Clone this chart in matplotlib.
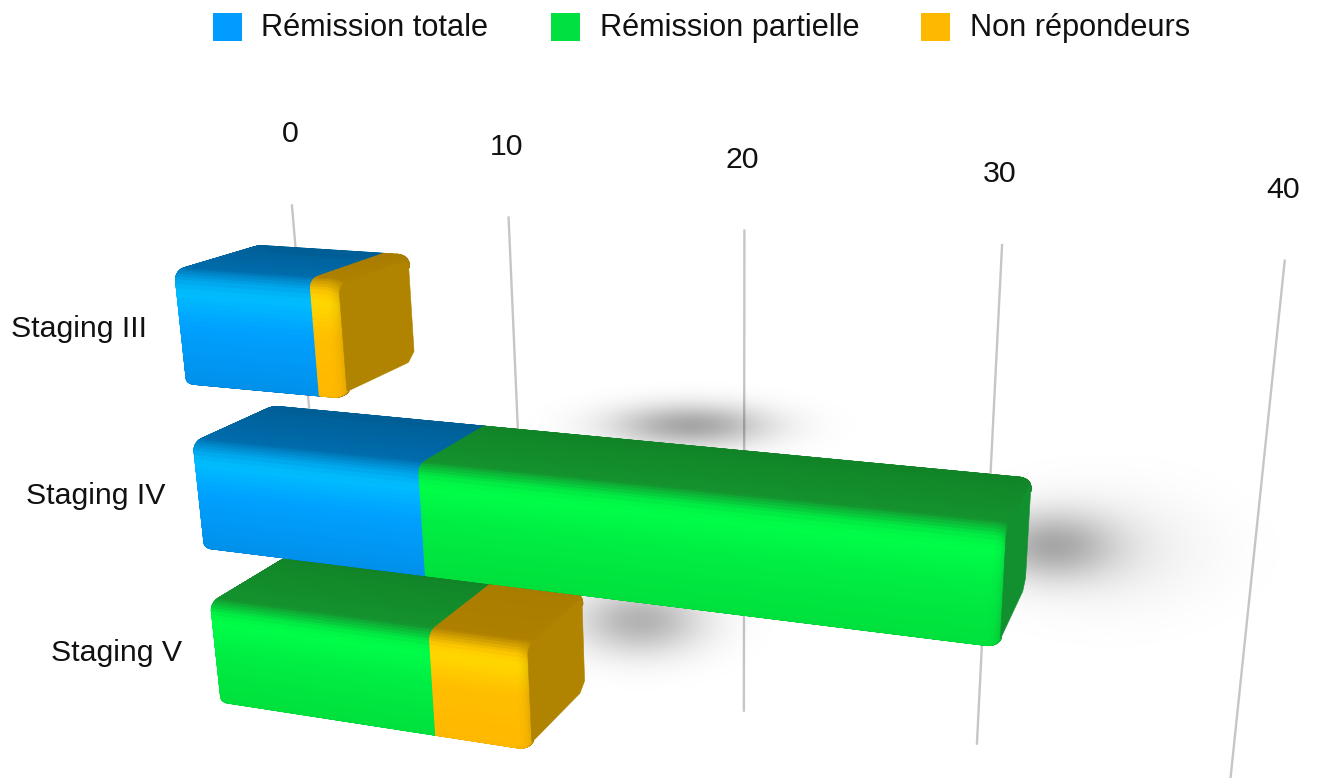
import numpy as np
import matplotlib
matplotlib.use("Agg")
import matplotlib.pyplot as plt
from matplotlib.collections import PolyCollection
from matplotlib.patches import Rectangle

plt.rcParams["font.family"] = ["Liberation Sans", "DejaVu Sans"]

categories = ["Staging III", "Staging IV", "Staging V"]
remission_totale = [6, 10, 0]
remission_partielle = [0, 22, 10]
non_repondeurs = [1, 0, 4]
value_ticks = [0, 10, 20, 30, 40]
series_names = ["Rémission totale", "Rémission partielle", "Non répondeurs"]

# camera: (value, row, depth) -> pixel
CAMERA = np.array([
    [21.47929, 24.81332, 94.1054, 181.8288],
    [0.3522265, 183.8706, -5.309194, 325.6577],
    [-0.004455213, 0.03359449, 0.07052626, 1.0],
])
GRID_DEPTH, GRID_TOP, GRID_BOTTOM = 1.6, -0.50, 2.52

# bar shape
HALF = 0.33
D_FRONT, D_BACK = -0.06, 1.08
R_H, R_D, R_V = 0.05, 0.10, 0.45
R_BH, R_BD = 0.012, 0.03
INSET_H, INSET_D = 0.03, 0.06
END_FADE = 0.3

Q_STOPS = [0.0, 0.025, 0.5, 0.78, 0.86, 1.05, 2.0]
PALETTE = {
    "totale": ["#004C80", "#0090EA", "#00A0FF", "#00BEFF", "#00AAF0", "#006CAC", "#005E96", "#005E96"],
    "partielle": ["#007024", "#00E03C", "#00EE44", "#00FF48", "#00F044", "#14922E", "#128428", "#129030"],
    "non": ["#7A5800", "#FFB800", "#FFBE00", "#FFD800", "#FFC800", "#AE8000", "#A87C00", "#B08400"],
}
LEGEND_COLOURS = ["#009CFF", "#00E040", "#FFB800"]


def project(v, h, d):
    w = CAMERA @ np.array([v, h, d, 1.0])
    return w[0] / w[2], w[1] / w[2]


def section(inset):
    H = HALF - INSET_H * inset
    d0, d1 = D_FRONT + INSET_D * inset, D_BACK - INSET_D * inset
    a = np.linspace(0, np.pi / 2, 6)
    hs = [H - R_BH + R_BH * np.cos(a), np.linspace(H - R_BH, -H + R_H, 24)[1:-1],
          -H + R_H - R_H * np.sin(a), np.full(16, -H)[1:-1], -H + R_H - R_H * np.cos(a)]
    ds = [d0 + R_BD - R_BD * np.sin(a), np.full(24, d0)[1:-1], d0 + R_D - R_D * np.cos(a),
          np.linspace(d0 + R_D, d1 - R_D, 16)[1:-1], d1 - R_D + R_D * np.sin(a)]
    qs = [np.linspace(0, .04, 6), np.linspace(.04, .88, 24)[1:-1], np.linspace(.88, 1.05, 6),
          np.linspace(1.05, 1.95, 16)[1:-1], np.linspace(1.95, 2, 6)]
    return np.concatenate(hs), np.concatenate(ds), np.concatenate(qs)


def tone(name, q):
    rgb = np.array([matplotlib.colors.to_rgb(c) for c in PALETTE[name][:7]])
    return np.array([np.interp(q, Q_STOPS, rgb[:, i]) for i in range(3)]).T


def end_inset(dist):
    t = np.clip(1 - dist / R_V, 0, 1)
    return 1 - np.sqrt(1 - t ** 2)


def draw_segment(ax, v0, v1, row, name, round_start, round_end, zorder):
    samples = [v0, v1]
    if round_start:
        samples += list(v0 + R_V * (1 - np.cos(np.linspace(0, np.pi / 2, 14))))
    if round_end:
        samples += list(v1 - R_V * (1 - np.cos(np.linspace(0, np.pi / 2, 14))))
    samples = np.unique(np.clip(samples, v0, v1))
    cap_rgb = np.array(matplotlib.colors.to_rgb(PALETTE[name][7]))
    rings, fades = [], []
    for v in samples:
        ins = 0.0
        if round_start:
            ins = max(ins, end_inset(v - v0))
        fade = 0.0
        if round_end:
            e = end_inset(v1 - v)
            ins = max(ins, e)
            fade = e
        h, d, q = section(ins)
        rings.append(np.array([project(v, row + hh, dd) for hh, dd in zip(h, d)]))
        fades.append(fade)
    base = tone(name, q)
    polys, cols = [], []
    for i in range(len(rings) - 1):
        fade = 0.5 * (fades[i] + fades[i + 1]) * END_FADE
        for j in range(len(q) - 1):
            polys.append([rings[i][j], rings[i + 1][j], rings[i + 1][j + 1], rings[i][j + 1]])
            c = 0.5 * (base[j] + base[j + 1])
            cols.append((1 - fade) * c + fade * cap_rgb)
    ax.add_collection(PolyCollection(polys, facecolors=cols, edgecolors=cols, linewidths=1.0, zorder=zorder))
    if round_end:
        h, d, _ = section(1.0)
        H = HALF - INSET_H
        d_end = D_BACK - INSET_D
        h = np.concatenate([h, [H - R_H, H]])
        d = np.concatenate([d, [d_end, d_end - R_D]])
        cap = [project(v1, row + hh, dd) for hh, dd in zip(h, d)]
        ax.fill(*zip(*cap), color=cap_rgb, lw=0.4, zorder=zorder + 0.5)


fig = plt.figure(figsize=(13.19, 7.78), dpi=100)
ax = fig.add_axes([0, 0, 1, 1])
ax.set_xlim(0, 1319)
ax.set_ylim(778, 0)
ax.axis("off")

# -----------------------------
# Grid and value labels
# -----------------------------
for v in value_ticks:
    p0, p1 = project(v, GRID_TOP, GRID_DEPTH), project(v, GRID_BOTTOM, GRID_DEPTH)
    ax.plot([p0[0], p1[0]], [p0[1], p1[1]], color="#C6C6C6", lw=1.7, zorder=1)
    ax.text(p0[0] - 2, p0[1] - 71, str(v), fontsize=21.8, ha="center", va="center", color="#111111")

# -----------------------------
# Soft shadows
# -----------------------------
yy, xx = np.mgrid[0:778, 0:1319]
alpha = np.zeros(xx.shape)
for cx, cy, sx, sy, a in [(1050, 545, 45, 24, .30), (1110, 550, 70, 40, .07),
                          (690, 425, 55, 15, .35), (640, 620, 45, 24, .30)]:
    alpha += a * np.exp(-((xx - cx) / sx) ** 2 / 2 - ((yy - cy) / sy) ** 2 / 2)
shadow = np.zeros(xx.shape + (4,))
shadow[..., 3] = np.clip(alpha, 0, 1)
ax.imshow(shadow, extent=(0, 1319, 778, 0), zorder=2, aspect="auto")

# -----------------------------
# Bars
# -----------------------------
stacks = list(zip(remission_totale, remission_partielle, non_repondeurs))
for row in [0, 2, 1]:
    names = ["totale", "partielle", "non"]
    parts = [(n, x) for n, x in zip(names, stacks[row]) if x > 0]
    left = 0
    for k, (name, width) in enumerate(parts):
        draw_segment(ax, left, left + width, row, name, k == 0, k == len(parts) - 1,
                     5 + (row == 1) * 3 + k * 0.1)
        left += width

for row, label in enumerate(categories):
    x, y = project(0, row, 0)
    ax.text(x - 35, y + 3, label, fontsize=21.8, ha="right", va="center", color="#111111")

# -----------------------------
# Legend
# -----------------------------
for x0, text_x, name, colour in zip([213, 551, 921], [261, 600, 970], series_names, LEGEND_COLOURS):
    ax.add_patch(Rectangle((x0, 13), 29, 28, color=colour, lw=0))
    ax.text(text_x, 28, name, fontsize=22.15, ha="left", va="center", color="#111111")

fig.savefig("out.png", dpi=100)
